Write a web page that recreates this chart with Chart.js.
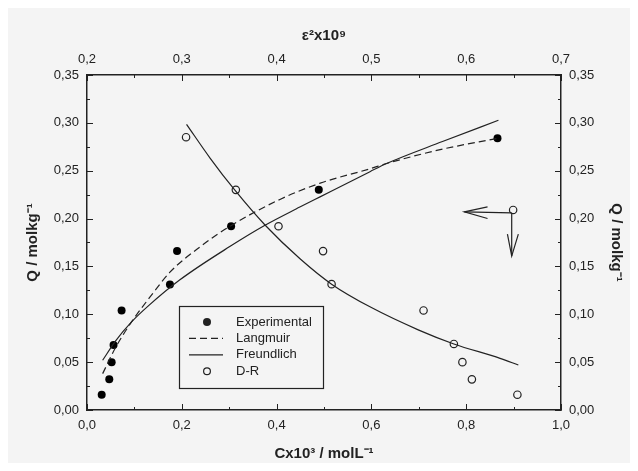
<!DOCTYPE html>
<html>
<head>
<meta charset="utf-8">
<script src="https://cdn.jsdelivr.net/npm/chart.js@4.4.1/dist/chart.umd.min.js"></script>
<style>
  html, body { margin: 0; padding: 0; background: #fff; }
  canvas { display: block; }
</style>
</head>
<body>
<canvas id="c" width="638" height="471" style="width:638px;height:471px"></canvas>
<script>
// experimental points, bottom axis (C x10^3)
const expC = [0.031, 0.047, 0.052, 0.056, 0.073, 0.175, 0.190, 0.304, 0.489, 0.866];
const expQ = [0.016, 0.032, 0.050, 0.068, 0.104, 0.131, 0.166, 0.192, 0.230, 0.284];

// Langmuir fit (dashed)
const langC = [0.033, 0.060, 0.094, 0.136, 0.175, 0.240, 0.302, 0.407, 0.492, 0.597, 0.632, 0.745, 0.868];
const langQ = [0.038, 0.065, 0.092, 0.120, 0.144, 0.171, 0.192, 0.220, 0.237, 0.252, 0.2575, 0.272, 0.284];

// Freundlich fit (solid)
const freuC = [0.033, 0.060, 0.094, 0.130, 0.196, 0.302, 0.3755, 0.449, 0.4916, 0.597, 0.632, 0.750, 0.868];
const freuQ = [0.052, 0.072, 0.092, 0.109, 0.136, 0.171, 0.193, 0.212, 0.2227, 0.249, 0.2575, 0.2805, 0.3027];

// D-R points, top axis (eps^2 x10^9)
const drE = [0.3045, 0.357, 0.402, 0.449, 0.458, 0.555, 0.587, 0.596, 0.606, 0.654];
const drQ = [0.285, 0.230, 0.192, 0.166, 0.1315, 0.104, 0.069, 0.050, 0.032, 0.016];

// D-R fit curve
const drFitE = [0.305, 0.330, 0.356, 0.388, 0.4247, 0.458, 0.500, 0.550, 0.587, 0.6357, 0.655];
const drFitQ = [0.2985, 0.263, 0.2296, 0.193, 0.158, 0.1315, 0.107, 0.0835, 0.069, 0.054, 0.047];

// axis-pointer arrows (bottom axis units)
const arrowMark = [[0.899, 0.209]];
const arrowLeft = [[0.896, 0.206], [0.796, 0.207]];
const arrowLeftHead = [[0.845, 0.2122], [0.796, 0.207], [0.845, 0.2001]];
const arrowDown = [[0.896, 0.206], [0.896, 0.1608]];
const arrowDownHead = [[0.887, 0.1837], [0.896, 0.1608], [0.910, 0.1837]];

const pts = (xs, ys) => xs.map((x, k) => ({ x: x, y: ys[k] }));
const pairs = arr => arr.map(p => ({ x: p[0], y: p[1] }));

const ink = '#222';
const fontTick = { family: 'Liberation Sans, Arial, sans-serif', size: 13 };
const fontTitle = { family: 'Liberation Sans, Arial, sans-serif', size: 15, weight: 'bold' };

const legendRows = [
  { label: 'Experimental', kind: 'dot' },
  { label: 'Langmuir', kind: 'dash' },
  { label: 'Freundlich', kind: 'line' },
  { label: 'D-R', kind: 'ring' }
];

const panel = {
  id: 'panel',
  beforeDraw(chart) {
    const ctx = chart.ctx;
    ctx.save();
    ctx.fillStyle = '#fff';
    ctx.fillRect(0, 0, chart.width, chart.height);
    ctx.fillStyle = '#f4f4f4';
    ctx.fillRect(8, 8, 622, 455);
    ctx.restore();
  }
};

// inward tick marks, major and minor
const tickMarks = {
  id: 'tickMarks',
  afterDraw(chart) {
    const ctx = chart.ctx, a = chart.chartArea;
    ctx.save();
    ctx.strokeStyle = ink;
    ctx.lineWidth = 1;
    for (const id of ['x', 'xTop', 'y', 'yRight']) {
      const s = chart.scales[id];
      const step = s.options.ticks.stepSize / 2;
      const n = Math.round((s.max - s.min) / step);
      for (let k = 0; k <= n; k++) {
        const p = Math.round(s.getPixelForValue(s.min + k * step)) + 0.5;
        const len = k % 2 ? 3 : 6;
        ctx.beginPath();
        if (id === 'x') { ctx.moveTo(p, a.bottom); ctx.lineTo(p, a.bottom - len); }
        if (id === 'xTop') { ctx.moveTo(p, a.top); ctx.lineTo(p, a.top + len); }
        if (id === 'y') { ctx.moveTo(a.left, p); ctx.lineTo(a.left + len, p); }
        if (id === 'yRight') { ctx.moveTo(a.right, p); ctx.lineTo(a.right - len, p); }
        ctx.stroke();
      }
    }
    ctx.restore();
  }
};

const boxLegend = {
  id: 'boxLegend',
  afterDatasetsDraw(chart) {
    const ctx = chart.ctx;
    const bx = 179, by = 306, bw = 144, bh = 82;
    ctx.save();
    ctx.fillStyle = '#f4f4f4';
    ctx.fillRect(bx, by, bw, bh);
    ctx.strokeStyle = ink;
    ctx.lineWidth = 1.2;
    ctx.strokeRect(bx + 0.5, by + 0.5, bw, bh);
    ctx.font = '13px "Liberation Sans", Arial, sans-serif';
    ctx.textBaseline = 'middle';
    legendRows.forEach((r, k) => {
      const y = by + 16 + k * 16.4;
      ctx.strokeStyle = ink;
      ctx.fillStyle = ink;
      if (r.kind === 'dot') {
        ctx.beginPath(); ctx.arc(207, y, 4, 0, Math.PI * 2); ctx.fill();
      } else if (r.kind === 'ring') {
        ctx.beginPath(); ctx.arc(207, y, 3.4, 0, Math.PI * 2); ctx.lineWidth = 1.2; ctx.stroke();
      } else {
        ctx.lineWidth = 1.2;
        ctx.setLineDash(r.kind === 'dash' ? [7, 4] : []);
        ctx.beginPath(); ctx.moveTo(189, y); ctx.lineTo(223, y); ctx.stroke();
        ctx.setLineDash([]);
      }
      ctx.fillText(r.label, 236, y);
    });
    ctx.restore();
  }
};

const lineSet = (data, axis, dash) => ({
  data: data, xAxisID: axis, yAxisID: 'y', showLine: true, fill: false,
  borderColor: ink, borderWidth: 1.2, borderDash: dash || [], pointRadius: 0,
  cubicInterpolationMode: 'monotone'
});
const straight = (data) => Object.assign(lineSet(data, 'x'), { cubicInterpolationMode: 'default', tension: 0 });

new Chart(document.getElementById('c'), {
  type: 'scatter',
  data: {
    datasets: [
      lineSet(pts(langC, langQ), 'x', [7, 4]),
      lineSet(pts(freuC, freuQ), 'x'),
      lineSet(pts(drFitE, drFitQ), 'xTop'),
      { data: pts(expC, expQ), xAxisID: 'x', yAxisID: 'y', pointRadius: 4,
        pointBackgroundColor: '#000', pointBorderColor: '#000', pointBorderWidth: 0 },
      { data: pts(drE, drQ), xAxisID: 'xTop', yAxisID: 'y', pointRadius: 3.7,
        pointBackgroundColor: 'rgba(0,0,0,0)', pointBorderColor: ink, pointBorderWidth: 1.2 },
      straight(pairs(arrowLeft)),
      straight(pairs(arrowLeftHead)),
      straight(pairs(arrowDown)),
      straight(pairs(arrowDownHead)),
      { data: pairs(arrowMark), xAxisID: 'x', yAxisID: 'y', pointRadius: 3.7,
        pointBackgroundColor: '#f4f4f4', pointBorderColor: ink, pointBorderWidth: 1.2 }
    ]
  },
  options: {
    responsive: false,
    animation: false,
    layout: { padding: 0 },
    plugins: { legend: { display: false }, tooltip: { enabled: false } },
    scales: {
      x: {
        type: 'linear', position: 'bottom', min: 0, max: 1,
        afterFit: s => { s.height = 61; },
        grid: { display: false, drawTicks: false },
        border: { display: true, color: ink, width: 1.5 },
        ticks: { stepSize: 0.2, padding: 8, color: ink, font: fontTick,
          callback: v => v.toFixed(1).replace('.', ',') },
        title: { display: true, text: 'Cx10³ / molL⁻¹', color: ink, font: fontTitle,
          padding: { top: 0, bottom: 8 } }
      },
      xTop: {
        type: 'linear', position: 'top', min: 0.2, max: 0.7,
        afterFit: s => { s.height = 75; },
        grid: { display: false, drawTicks: false },
        border: { display: true, color: ink, width: 1.5 },
        ticks: { stepSize: 0.1, padding: 8, color: ink, font: fontTick,
          callback: v => v.toFixed(1).replace('.', ',') },
        title: { display: true, text: 'ε²x10⁹', color: ink, font: fontTitle,
          padding: { top: 27, bottom: 0 } }
      },
      y: {
        type: 'linear', position: 'left', min: 0, max: 0.35,
        afterFit: s => { s.width = 87; },
        grid: { display: false, drawTicks: false },
        border: { display: true, color: ink, width: 1.5 },
        ticks: { stepSize: 0.05, padding: 8, color: ink, font: fontTick,
          callback: v => v.toFixed(2).replace('.', ',') },
        title: { display: true, text: 'Q / molkg⁻¹', color: ink, font: fontTitle,
          padding: { top: 24, bottom: 0 } }
      },
      yRight: {
        type: 'linear', position: 'right', min: 0, max: 0.35,
        afterFit: s => { s.width = 77; },
        grid: { display: false, drawTicks: false },
        border: { display: true, color: ink, width: 1.5 },
        ticks: { stepSize: 0.05, padding: 8, color: ink, font: fontTick,
          callback: v => v.toFixed(2).replace('.', ',') },
        title: { display: true, text: 'Q / molkg⁻¹', color: ink, font: fontTitle,
          padding: { top: 13, bottom: 0 } }
      }
    }
  },
  plugins: [panel, tickMarks, boxLegend]
});
</script>
</body>
</html>
